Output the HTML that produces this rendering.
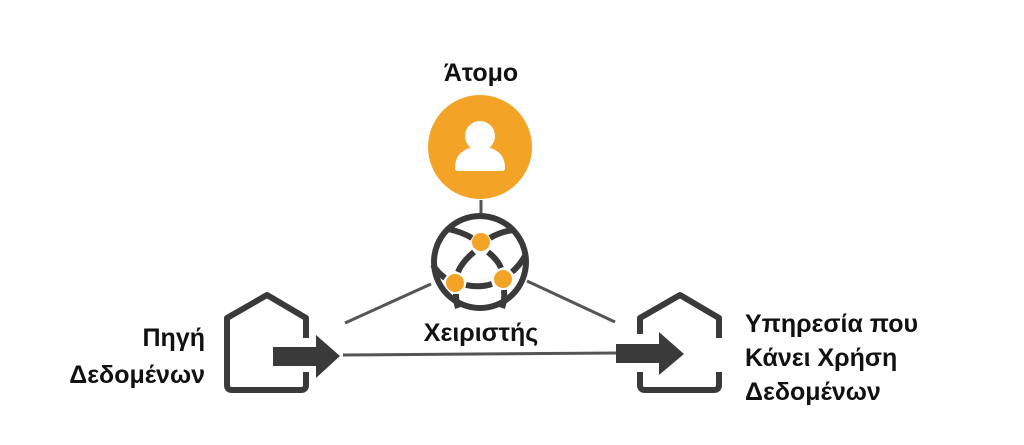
<!DOCTYPE html>
<html><head><meta charset="utf-8"><style>
body{margin:0;background:#fff;width:1024px;height:445px;overflow:hidden}
svg{display:block}
text{font-family:"Liberation Sans",sans-serif;font-weight:bold;fill:#111;font-size:25px}
</style></head><body>
<svg width="1024" height="445" viewBox="0 0 1024 445">
<g stroke="#555" stroke-width="3" fill="none">
<line x1="481" y1="200" x2="481" y2="216"/>
<line x1="345" y1="323" x2="431" y2="284"/>
<line x1="527" y1="281" x2="615" y2="322"/>
<line x1="343" y1="355" x2="617" y2="353"/>
</g>
<circle cx="480" cy="147" r="52" fill="#F3A326"/>
<circle cx="480" cy="136" r="15" fill="#fff"/>
<path d="M455 168 q0 -20 25 -22 q25 2 25 22 q0 3 -3 3 h-44 q-3 0 -3 -3z" fill="#fff"/>
<g stroke="#3a3a3a" stroke-width="6" fill="none">
<circle cx="480" cy="262" r="46"/>
<path d="M474 252 Q462 262 458 272"/>
<path d="M488 252 Q498 260 501 268"/>
<path d="M466 285 Q479 288 492 284"/>
<path d="M448 229 Q462 232 472 238"/>
<path d="M490 238 Q500 232 513 230"/>
<path d="M445 278 Q437 272 433 265"/>
<path d="M512 272 Q520 265 525 256"/>
<path d="M456 294 Q456 302 458 308"/>
<path d="M504 290 Q505 300 502 308"/>
</g>
<circle cx="481" cy="242" r="9" fill="#F3A326"/>
<circle cx="455" cy="283" r="9" fill="#F3A326"/>
<circle cx="503" cy="279" r="9" fill="#F3A326"/>
<g stroke="#3a3a3a" stroke-width="6" fill="none" stroke-linejoin="round">
<path d="M306 338 V318 L267 295 L227 318 V385 Q227 390 232 390 H301 Q306 390 306 385 V372"/>
<path d="M719 338 V318 L680 295 L640 318 V334 M640 372 V385 Q640 390 645 390 H714 Q719 390 719 385 V372"/>
</g>
<g fill="#3a3a3a">
<rect x="273" y="347" width="45" height="19"/>
<path d="M316 335 L340 356 L316 378Z"/>
<rect x="616" y="344" width="45" height="19"/>
<path d="M659 332 L684 354 L659 375Z"/>
</g>
<text x="481" y="81" text-anchor="middle">Άτομο</text>
<text x="481" y="341" text-anchor="middle">Χειριστής</text>
<text x="205" y="346" text-anchor="end">Πηγή</text>
<text x="205" y="383" text-anchor="end">Δεδομένων</text>
<text x="745" y="332">Υπηρεσία που</text>
<text x="745" y="366">Κάνει Χρήση</text>
<text x="745" y="400">Δεδομένων</text>
</svg>
</body></html>
